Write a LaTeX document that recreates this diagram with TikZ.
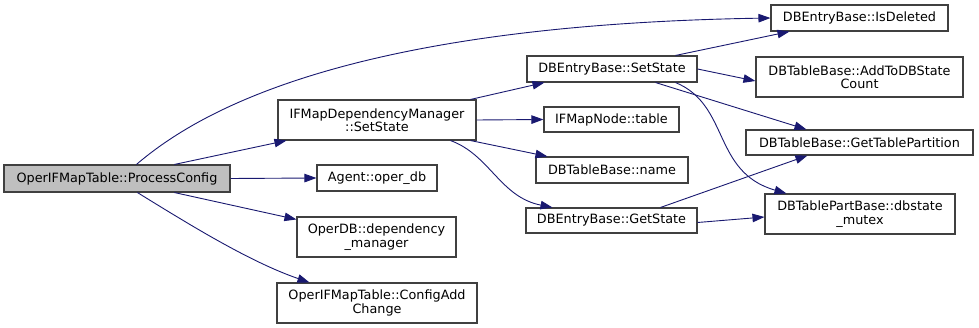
\documentclass[tikz,border=0pt]{standalone}
\usepackage{fontspec}
\setmainfont{DejaVu Sans}
\usetikzlibrary{arrows.meta}
\definecolor{edgeblue}{HTML}{191970}
\definecolor{boxline}{HTML}{404040}
\begin{document}
\begin{tikzpicture}[x=1pt,y=-1pt,
  fn/.style={draw=boxline,line width=1.1pt,fill=white,inner sep=0pt,
    align=center,font=\fontsize{12.8}{13.5}\selectfont,text=black},
  root/.style={fn,fill=black!25},
  call/.style={draw=edgeblue,line width=0.9pt,-{Triangle[length=12pt,width=8.5pt]}}]
\useasboundingbox (0,0) rectangle (979,328);

% caller
\node[root,minimum width=226pt,minimum height=27pt] (proc) at (117,178.5) {OperIFMapTable::ProcessConfig};

% first level callees
\node[fn,minimum width=198pt,minimum height=40pt] (ifm) at (377,120) {IFMapDependencyManager\\::SetState};
\node[fn,minimum width=120pt,minimum height=26pt] (agent) at (377,178) {Agent::oper\_db};
\node[fn,minimum width=159pt,minimum height=40pt] (operdb) at (376.5,237) {OperDB::dependency\\\_manager};
\node[fn,minimum width=200pt,minimum height=40pt] (cac) at (377,303) {OperIFMapTable::ConfigAdd\\Change};

% second level callees
\node[fn,minimum width=170pt,minimum height=26pt] (dbset) at (612,69) {DBEntryBase::SetState};
\node[fn,minimum width=135pt,minimum height=25pt] (iftable) at (611.5,119.5) {IFMapNode::table};
\node[fn,minimum width=152pt,minimum height=26pt] (name) at (612,170) {DBTableBase::name};
\node[fn,minimum width=171pt,minimum height=25pt] (getst) at (611.5,220.5) {DBEntryBase::GetState};

% third level callees
\node[fn,minimum width=177pt,minimum height=26pt] (isdel) at (859.5,18) {DBEntryBase::IsDeleted};
\node[fn,minimum width=207pt,minimum height=40pt] (addto) at (859.5,77) {DBTableBase::AddToDBState\\Count};
\node[fn,minimum width=227pt,minimum height=25pt] (gtp) at (859.5,142.5) {DBTableBase::GetTablePartition};
\node[fn,minimum width=190pt,minimum height=40pt] (mutex) at (860,214) {DBTablePartBase::dbstate\\\_mutex};

% calls from ProcessConfig
\draw[call] ([xshift=133pt]proc.north west) .. controls (200,110) and (350,25) .. (isdel.west);
\draw[call] ([xshift=171pt]proc.north west) -- ([xshift=9pt]ifm.south west);
\draw[call] (proc.east) -- (agent.west);
\draw[call] ([xshift=171pt]proc.south west) -- ([yshift=-3pt]operdb.north west);
\draw[call] ([xshift=134pt]proc.south west) .. controls (190,225) and (250,262) .. ([xshift=33pt]cac.north west);

% calls from IFMapDependencyManager::SetState
\draw[call] ([xshift=-6pt]ifm.north east) -- ([xshift=18pt]dbset.south west);
\draw[call] (ifm.east) -- (iftable.west);
\draw[call] ([xshift=-6pt]ifm.south east) -- ([xshift=12pt]name.north west);
\draw[call] ([xshift=-26pt]ifm.south east) .. controls (490,155) and (500,197) .. ([xshift=27pt]getst.north west);

% calls from DBEntryBase::SetState
\draw[call] ([xshift=-22pt]dbset.north east) -- ([xshift=19pt]isdel.south west);
\draw[call] (dbset.east) -- ([yshift=-4pt]addto.west);
\draw[call] ([xshift=-42pt]dbset.south east) -- ([xshift=61pt]gtp.north west);
\draw[call] ([xshift=-22pt]dbset.south east) .. controls (730,105) and (712,172) .. ([xshift=22pt]mutex.north west);

% calls from DBEntryBase::GetState
\draw[call] ([xshift=-37pt]getst.north east) -- ([xshift=62pt]gtp.south west);
\draw[call] ([yshift=-2pt]getst.east) -- ([yshift=-3pt]mutex.west);
\end{tikzpicture}
\end{document}
